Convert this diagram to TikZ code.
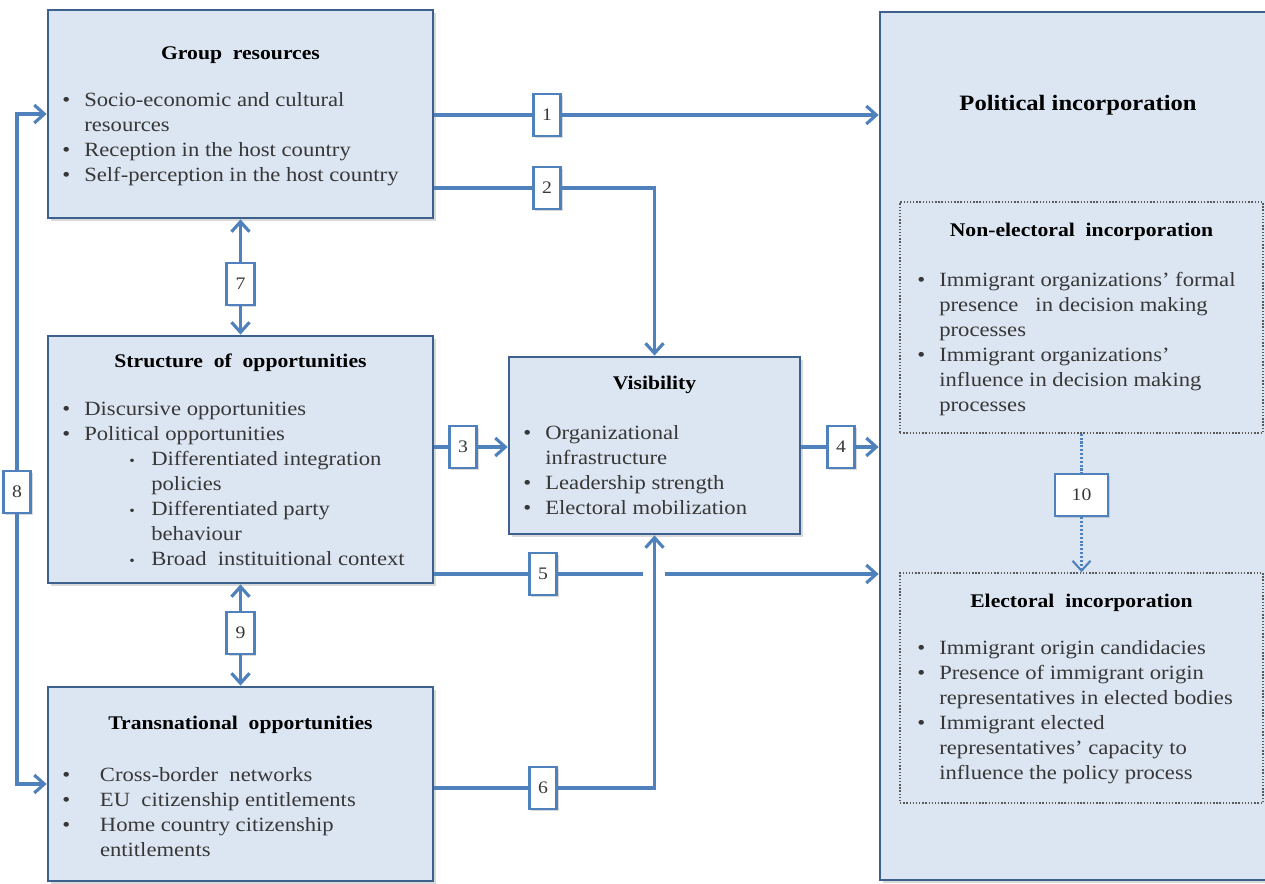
\documentclass[tikz,border=0pt]{standalone}
\usepackage{fontspec}
\setmainfont{Liberation Serif}[FakeStretch=1.12]
\usetikzlibrary{arrows.meta,shadows,positioning}
\definecolor{panelfill}{RGB}{220,230,242}
\definecolor{panelline}{RGB}{62,96,140}
\definecolor{linkblue}{RGB}{79,129,189}
\definecolor{itemgray}{RGB}{55,55,55}
\tikzstyle{panel}=[draw=panelline,fill=panelfill,line width=1.6pt,rectangle,inner sep=0pt,drop shadow={opacity=0.3,shadow xshift=1.5pt,shadow yshift=-1.5pt}]
\tikzstyle{subpanel}=[draw=gray!70!black,densely dotted,fill=panelfill,line width=0.8pt,rectangle,inner sep=0pt]
\tikzstyle{num}=[draw=linkblue,fill=white,line width=1.5pt,rectangle,minimum width=0.55cm,minimum height=0.84cm,inner sep=0pt,font=\fontsize{10}{12}\selectfont,text=itemgray,drop shadow={opacity=0.3,shadow xshift=1.2pt,shadow yshift=-1.2pt}]
\tikzstyle{head}=[font=\fontsize{11}{13}\selectfont\bfseries,inner sep=0pt]
\tikzstyle{items}=[font=\fontsize{11.5}{14.2}\selectfont,align=left,anchor=north west,inner sep=0pt,text=itemgray]
\tikzstyle{link}=[draw=linkblue,line width=1.8pt]
\newcommand{\pbul}[1][0.44cm]{\makebox[#1][l]{\textbullet}}
\newcommand{\pind}[1][0.44cm]{\hspace*{#1}}
\newcommand{\psbul}{\hspace*{1.34cm}\makebox[0.44cm][l]{\scalebox{0.7}{\textbullet}}}
\newcommand{\psind}{\hspace*{1.78cm}}

\begin{document}
\begin{tikzpicture}[x=0.02cm,y=-0.02cm,>={Straight Barb[length=2mm,width=3.6mm]}]
\clip (0,0) rectangle (1265,884);
% boxes
\draw (240.5,114) node [panel,minimum width=7.7cm,minimum height=4.16cm] (gr) {};
\draw (240.5,459.5) node [panel,minimum width=7.7cm,minimum height=4.94cm] (st) {};
\draw (240.5,784) node [panel,minimum width=7.7cm,minimum height=3.88cm] (tr) {};
\draw (654.5,445.5) node [panel,minimum width=5.82cm,minimum height=3.54cm] (vis) {};
\draw (1085,446) node [panel,minimum width=8.2cm,minimum height=17.36cm] (pi) {};
\draw (1081.5,317.5) node [subpanel,minimum width=7.26cm,minimum height=4.62cm] (ne) {};
\draw (1081.5,688) node [subpanel,minimum width=7.26cm,minimum height=4.6cm] (el) {};
% numbered labels
\draw (547,115) node [num] (n1) {1};
\draw (547,188) node [num] (n2) {2};
\draw (463,447) node [num] (n3) {3};
\draw (841,447) node [num] (n4) {4};
\draw (543,574) node [num] (n5) {5};
\draw (543,788) node [num] (n6) {6};
\draw (240.5,284) node [num] (n7) {7};
\draw (17,492) node [num] (n8) {8};
\draw (240.5,633) node [num] (n9) {9};
\draw (1081.5,495) node [num,minimum width=1.06cm] (n10) {10};
\coordinate (j5a) at (643,574);
\coordinate (j5b) at (665,574);
% connectors
\draw[link] (gr.east |- n1) -- (n1);
\draw[link,->] (n1) -- (n1 -| pi.west);
\draw[link] (gr.east |- n2) -- (n2);
\draw[link,->] (n2) -| (vis.north);
\draw[link] (st.east |- n3) -- (n3);
\draw[link,->] (n3) -- (n3 -| vis.west);
\draw[link] (vis.east |- n4) -- (n4);
\draw[link,->] (n4) -- (n4 -| pi.west);
\draw[link] (st.east |- n5) -- (n5);
\draw[link] (n5) -- (j5a);
\draw[link,->] (j5b) -- (j5b -| pi.west);
\draw[link] (tr.east |- n6) -- (n6);
\draw[link,->] (n6) -| (vis.south);
\draw[link,<-] (gr.south) -- (n7);
\draw[link,->] (n7) -- (st.north);
\draw[link,->] (n8) |- (gr.west);
\draw[link,->] (n8) |- (tr.west);
\draw[link,<-] (st.south) -- (n9);
\draw[link,->] (n9) -- (tr.north);
\draw[draw=linkblue,line width=1.2pt,densely dotted] (ne.south) -- (n10);
\draw[draw=linkblue,line width=1.2pt,densely dotted,->] (n10) -- (el.north);
% texts
\draw (240.5,55) node [head] (grt) {Group\ \ resources};
\draw (62,92) node [items] (grl) {\pbul Socio-economic and cultural\\ \pind resources\\ \pbul Reception in the host country\\ \pbul Self-perception in the host country};
\draw (240.5,363) node [head] (stt) {Structure\ \ of\ \ opportunities};
\draw (62,402) node [items] (stl) {\pbul Discursive opportunities\\ \pbul Political opportunities\\ \psbul Differentiated integration\\ \psind policies\\ \psbul Differentiated party\\ \psind behaviour\\ \psbul Broad\ \ instituitional context};
\draw (240.5,725) node [head] (trt) {Transnational\ \ opportunities};
\draw (62,767) node [items] (trl) {\pbul[0.64cm] Cross-border\ \ networks\\ \pbul[0.64cm] EU\ \ citizenship entitlements\\ \pbul[0.64cm] Home country citizenship\\ \pind[0.64cm] entitlements};
\draw (654.5,385) node [head] (vist) {Visibility};
\draw (523,425) node [items] (visl) {\pbul Organizational\\ \pind infrastructure\\ \pbul Leadership strength\\ \pbul Electoral mobilization};
\draw (1078,105) node [head,font=\fontsize{12.5}{15}\selectfont\bfseries] (pit) {Political incorporation};
\draw (1081.5,232) node [head] (net) {Non-electoral\ \ incorporation};
\draw (917,272) node [items] (nel) {\pbul Immigrant organizations’ formal\\ \pind presence\ \ \ in decision making\\ \pind processes\\ \pbul Immigrant organizations’\\ \pind influence in decision making\\ \pind processes};
\draw (1081.5,603) node [head] (elt) {Electoral\ \ incorporation};
\draw (917,640) node [items] (ell) {\pbul Immigrant origin candidacies\\ \pbul Presence of immigrant origin\\ \pind representatives in elected bodies\\ \pbul Immigrant elected\\ \pind representatives’\ capacity to\\ \pind influence the policy process};
\end{tikzpicture}
\end{document}
